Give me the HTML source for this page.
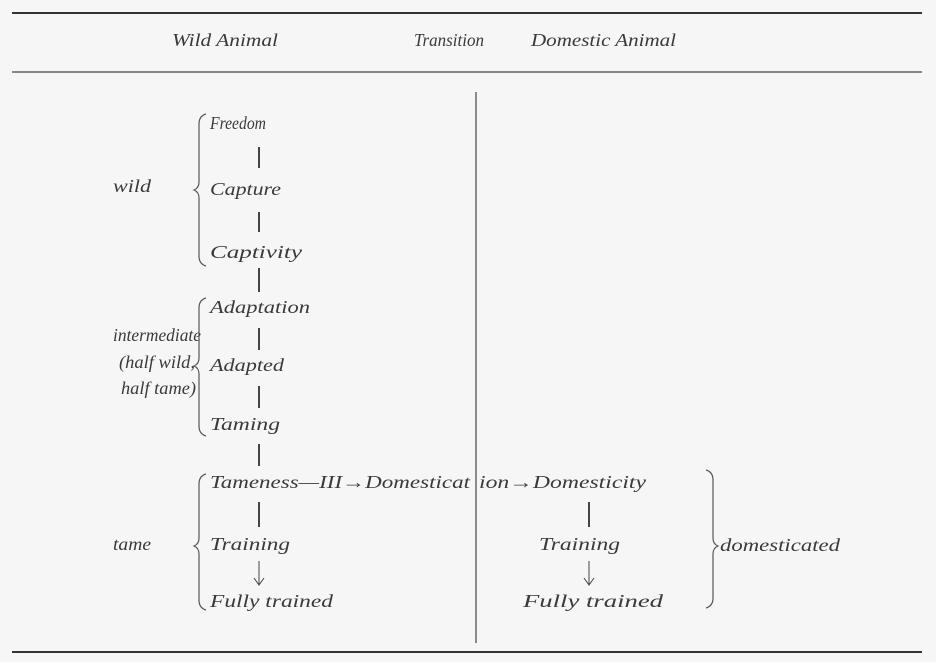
<!DOCTYPE html>
<html><head><meta charset="utf-8"><style>
html,body{margin:0;padding:0;background:#f6f6f6;}
svg{display:block;}
text{font-family:"Liberation Serif",serif;font-style:italic;font-size:18px;fill:#3a3a3a;}
</style></head><body>
<svg width="936" height="662" viewBox="0 0 936 662">
<rect width="936" height="662" fill="#f6f6f6"/>
<line x1="12" y1="13" x2="922" y2="13" stroke="#333" stroke-width="2"/>
<line x1="12" y1="72" x2="922" y2="72" stroke="#444" stroke-width="1.2"/>
<line x1="12" y1="652" x2="922" y2="652" stroke="#333" stroke-width="2"/>
<line x1="476" y1="92" x2="476" y2="643" stroke="#444" stroke-width="1.2"/>

<text x="172" y="46" textLength="106" lengthAdjust="spacingAndGlyphs">Wild Animal</text>
<text x="414" y="46" textLength="70" lengthAdjust="spacingAndGlyphs">Transition</text>
<text x="531" y="46" textLength="145" lengthAdjust="spacingAndGlyphs">Domestic Animal</text>

<text x="113" y="192" textLength="38" lengthAdjust="spacingAndGlyphs">wild</text>
<text x="113" y="341" textLength="88" lengthAdjust="spacingAndGlyphs">intermediate</text>
<text x="119" y="368" textLength="76" lengthAdjust="spacingAndGlyphs">(half wild,</text>
<text x="121" y="394" textLength="75" lengthAdjust="spacingAndGlyphs">half tame)</text>
<text x="113" y="550" textLength="38" lengthAdjust="spacingAndGlyphs">tame</text>

<text x="210" y="129" textLength="56" lengthAdjust="spacingAndGlyphs">Freedom</text>
<text x="210" y="195" textLength="71" lengthAdjust="spacingAndGlyphs">Capture</text>
<text x="210" y="258" textLength="92" lengthAdjust="spacingAndGlyphs">Captivity</text>
<text x="210" y="313" textLength="100" lengthAdjust="spacingAndGlyphs">Adaptation</text>
<text x="210" y="371" textLength="74" lengthAdjust="spacingAndGlyphs">Adapted</text>
<text x="210" y="430" textLength="70" lengthAdjust="spacingAndGlyphs">Taming</text>
<text x="210" y="488" textLength="260" lengthAdjust="spacingAndGlyphs">Tameness—III→Domesticat</text>
<text x="479" y="488" textLength="167" lengthAdjust="spacingAndGlyphs">ion→Domesticity</text>
<text x="210" y="550" textLength="80" lengthAdjust="spacingAndGlyphs">Training</text>
<text x="210" y="607" textLength="123" lengthAdjust="spacingAndGlyphs">Fully trained</text>
<text x="539" y="550" textLength="81" lengthAdjust="spacingAndGlyphs">Training</text>
<text x="523" y="607" textLength="140" lengthAdjust="spacingAndGlyphs">Fully trained</text>
<text x="720" y="551" textLength="120" lengthAdjust="spacingAndGlyphs">domesticated</text>

<g fill="none" stroke="#555" stroke-width="1.2">
<path d="M206,114 Q199,116 199,124 L199,182 Q199,188 194,190 Q199,192 199,198 L199,256 Q199,264 206,266"/>
<path d="M206,298 Q199,300 199,308 L199,358 Q199,364 194,366 Q199,368 199,374 L199,426 Q199,434 206,436"/>
<path d="M206,474 Q199,476 199,484 L199,538 Q199,544 194,546 Q199,548 199,554 L199,600 Q199,608 206,610"/>
<path d="M706,470 Q713,472 713,480 L713,538 Q713,544 718,546 Q713,548 713,554 L713,598 Q713,606 706,608"/>
</g>

<g stroke="#444" stroke-width="2">
<line x1="259" y1="147" x2="259" y2="168"/>
<line x1="259" y1="212" x2="259" y2="232"/>
<line x1="259" y1="268" x2="259" y2="292"/>
<line x1="259" y1="328" x2="259" y2="350"/>
<line x1="259" y1="386" x2="259" y2="408"/>
<line x1="259" y1="444" x2="259" y2="466"/>
<line x1="259" y1="502" x2="259" y2="527"/>
<line x1="589" y1="502" x2="589" y2="527"/>
</g>
<g stroke="#444" stroke-width="1" fill="none">
<path d="M259,561 L259,584 M254,578 L259,585 L264,578"/>
<path d="M589,561 L589,584 M584,578 L589,585 L594,578"/>
</g>
</svg>
</body></html>
